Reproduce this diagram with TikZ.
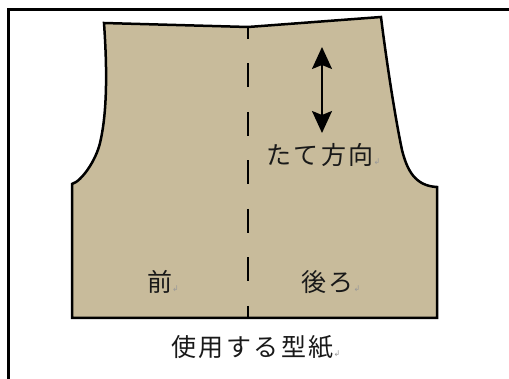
\documentclass[tikz,border=0pt]{standalone}
\usepackage{fontspec}
\usetikzlibrary{arrows.meta}
\newfontfamily\jp[LetterSpace=10]{Noto Sans CJK JP}
\newfontfamily\marksym{DejaVu Sans}
\definecolor{cloth}{HTML}{C8BB9B}
\newcommand{\retmark}{{\marksym\fontsize{8}{8}\selectfont\textcolor{black!40}{↲}}}
\tikzset{
  x=1pt,y=-1pt,
  frameline/.style={draw=black,line width=2.5pt},
  pattern piece/.style={draw=black,line width=2.5pt,fill=cloth,line join=miter},
  foldline/.style={draw=black,line width=2.6pt,dash pattern=on 24pt off 24.5pt,dash phase=12pt},
  grain/.style={draw=black,line width=2pt,{Stealth[length=22pt,width=20pt,inset=4pt]}-{Stealth[length=22pt,width=20pt,inset=4pt]}},
  label/.style={inner sep=0pt,text=black!90,anchor=west},
}
\begin{document}
\begin{tikzpicture}
\useasboundingbox (0,0) rectangle (509,379);
\fill[white] (0,0) rectangle (509,379);
\draw[frameline] (8.5,379) -- (8.5,9.5) -- (509,9.5);
\draw[pattern piece] (104,23) -- (248,27) -- (381,17)
  .. controls (385,50) and (394,112) .. (402,150)
  .. controls (407,170) and (415,186) .. (437,187)
  -- (437,318) -- (72,318) -- (72,184)
  .. controls (82,181) and (96,160) .. (100,143)
  .. controls (106,118) and (108,80) .. (104,23) -- cycle;
\coordinate (foldtop) at (248,27);
\coordinate (foldbottom) at (248,318);
\draw[foldline] (foldtop) -- (foldbottom);
\coordinate (graintop) at (322,47);
\coordinate (grainbottom) at (322,133);
\draw[grain] (graintop) -- (grainbottom);
\node[label] (grainlabel) at (266,155) {\fontsize{25}{25}\selectfont\jp たて方向\retmark};
\node[label] (front) at (147,282) {\fontsize{25}{25}\selectfont\jp 前\retmark};
\node[label] (back) at (301,282) {\fontsize{25}{25}\selectfont\jp 後ろ\retmark};
\node[label] (caption) at (171,347) {\fontsize{25}{25}\selectfont\jp 使用する型紙\retmark};
\end{tikzpicture}
\end{document}
